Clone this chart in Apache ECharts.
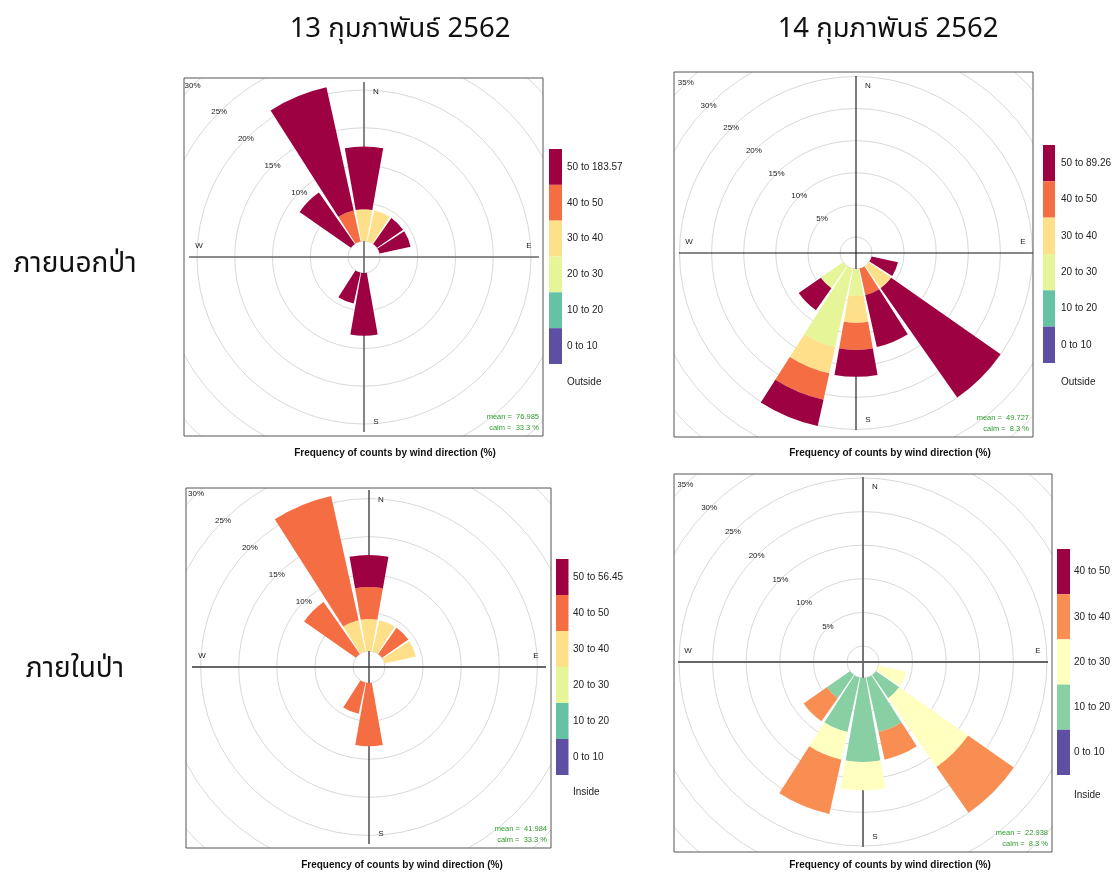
<!DOCTYPE html>
<html><head><meta charset="utf-8">
<script src="https://cdn.jsdelivr.net/npm/echarts@6/dist/echarts.min.js"></script>
<style>html,body{margin:0;padding:0;background:#fff}#c{width:1114px;height:876px}</style>
</head><body><div id="c"></div>
<script>
// ---------- DATA ----------
const directions = ['N','NNE','NE','ENE','E','ESE','SE','SSE','S','SSW','SW','WSW','W','WNW','NW','NNW'];
const compassLabels = ['N','E','S','W'];
const dateTitles = ['13 กุมภาพันธ์ 2562', '14 กุมภาพันธ์ 2562'];
const rowTitles = ['ภายนอกป่า', 'ภายในป่า'];
const captionText = 'Frequency of counts by wind direction (%)';

// Panel 1: Outside, 13 Feb (values in % per direction, per speed bin)
const p1Bins = ['0 to 10','10 to 20','20 to 30','30 to 40','40 to 50','50 to 183.57'];
const p1Bin0 = [0,0,0,0,0,0,0,0,0,0,0,0,0,0,0,0];
const p1Bin1 = [0,0,0,0,0,0,0,0,0,0,0,0,0,0,0,0];
const p1Bin2 = [0,0,0,0,0,0,0,0,0,0,0,0,0,0,0,0];
const p1Bin3 = [4.2,4.2,0,0,0,0,0,0,0,0,0,0,0,0,0,0];
const p1Bin4 = [0,0,0,0,0,0,0,0,0,0,0,0,0,0,0,4.2];
const p1Bin5 = [8.3,0,4.2,4.2,0,0,0,0,8.3,4.2,0,0,0,0,8.3,16.7];
const p1Levels = [0,5,10,15,20,25,30];

// Panel 2: Outside, 14 Feb
const p2Bins = ['0 to 10','10 to 20','20 to 30','30 to 40','40 to 50','50 to 89.26'];
const p2Bin0 = [0,0,0,0,0,0,0,0,0,0,0,0,0,0,0,0];
const p2Bin1 = [0,0,0,0,0,0,0,0,0,0,0,0,0,0,0,0];
const p2Bin2 = [0,0,0,0,0,0,0,0,4.2,12.5,4.2,0,0,0,0,0];
const p2Bin3 = [0,0,0,0,0,0,4.2,0,4.2,4.2,0,0,0,0,0,0];
const p2Bin4 = [0,0,0,0,0,0,0,4.2,4.2,4.2,0,0,0,0,0,0];
const p2Bin5 = [0,0,0,0,0,4.2,20.8,8.3,4.2,4.2,4.2,0,0,0,0,0];
const p2Levels = [0,5,10,15,20,25,30,35];

// Panel 3: Inside, 13 Feb
const p3Bins = ['0 to 10','10 to 20','20 to 30','30 to 40','40 to 50','50 to 56.45'];
const p3Bin0 = [0,0,0,0,0,0,0,0,0,0,0,0,0,0,0,0];
const p3Bin1 = [0,0,0,0,0,0,0,0,0,0,0,0,0,0,0,0];
const p3Bin2 = [0,0,0,0,0,0,0,0,0,0,0,0,0,0,0,0];
const p3Bin3 = [4.2,4.2,0,4.2,0,0,0,0,0,0,0,0,0,0,0,4.2];
const p3Bin4 = [4.2,0,4.2,0,0,0,0,0,8.3,4.2,0,0,0,0,8.3,16.7];
const p3Bin5 = [4.2,0,0,0,0,0,0,0,0,0,0,0,0,0,0,0];
const p3Levels = [0,5,10,15,20,25,30];

// Panel 4: Inside, 14 Feb
const p4Bins = ['0 to 10','10 to 20','20 to 30','30 to 40','40 to 50'];
const p4Bin0 = [0,0,0,0,0,0,0,0,0,0,0,0,0,0,0,0];
const p4Bin1 = [0,0,0,0,0,0,4.2,8.3,12.5,8.3,4.2,0,0,0,0,0];
const p4Bin2 = [0,0,0,0,0,4.2,12.5,0,4.2,4.2,0,0,0,0,0,0];
const p4Bin3 = [0,0,0,0,0,0,8.3,4.2,0,8.3,4.2,0,0,0,0,0];
const p4Bin4 = [0,0,0,0,0,0,0,0,0,0,0,0,0,0,0,0];
const p4Levels = [0,5,10,15,20,25,30,35];

const meanValues = ['76.985','49.727','41.984','22.938'];
const calmValues = ['33.3','8.3','33.3','8.3'];
const groupNames = ['Outside','Outside','Inside','Inside'];

// ---------- STYLE / LAYOUT ----------
const colors6 = ['#5E4FA2','#66C2A5','#E6F598','#FEE08B','#F46D43','#9E0142'];
const colors5 = ['#5E4FA2','#88CFA4','#FFFFBF','#F98E52','#9E0142'];

const panels = [
  {bins:p1Bins, values:[p1Bin0,p1Bin1,p1Bin2,p1Bin3,p1Bin4,p1Bin5], colors:colors6, levels:p1Levels},
  {bins:p2Bins, values:[p2Bin0,p2Bin1,p2Bin2,p2Bin3,p2Bin4,p2Bin5], colors:colors6, levels:p2Levels},
  {bins:p3Bins, values:[p3Bin0,p3Bin1,p3Bin2,p3Bin3,p3Bin4,p3Bin5], colors:colors6, levels:p3Levels},
  {bins:p4Bins, values:[p4Bin0,p4Bin1,p4Bin2,p4Bin3,p4Bin4], colors:colors5, levels:p4Levels}
];
const layout = [
  {box:[184,78,359,358], center:[364,257], hole:16, k:7.55, axisLen:175, axisColor:'#666', axisW:1.6,
   leg:{x:549,y:149,w:13,h:215}, legTextX:567, unitY:382, caption:[395,453]},
  {box:[674,72,359,365], center:[856,253], hole:16, k:6.42, axisLen:177, axisColor:'#111', axisW:1.1,
   leg:{x:1043,y:145,w:12,h:218}, legTextX:1061, unitY:382, caption:[890,453]},
  {box:[186,488,365,360], center:[369,667], hole:16, k:7.62, axisLen:177, axisColor:'#333', axisW:1.3,
   leg:{x:556,y:559,w:12.5,h:216}, legTextX:573, unitY:792, caption:[402,865]},
  {box:[674,474,378,378], center:[863,662], hole:16, k:6.72, axisLen:185, axisColor:'#666', axisW:1.8,
   leg:{x:1057,y:549,w:13,h:226}, legTextX:1074, unitY:795, caption:[890,865]}
];
const smallFont = '"Liberation Sans", Arial, sans-serif';
const thaiFont = '"Noto Sans Thai", "Leelawadee UI", Tahoma, "Noto Sans", "DejaVu Sans", sans-serif';

const option = {
  animation:false, backgroundColor:'#ffffff',
  polar:[], angleAxis:[], radiusAxis:[], series:[], graphic:[]
};

panels.forEach((p, i) => {
  const L = layout[i];
  const maxLevel = p.levels[p.levels.length - 1];
  option.polar.push({center:L.center, radius:[L.hole, L.hole + maxLevel * L.k]});
  option.angleAxis.push({
    polarIndex:i, type:'category', data:directions, boundaryGap:true,
    startAngle:90 + 180 / directions.length, clockwise:true,
    axisLine:{show:false}, axisTick:{show:false}, axisLabel:{show:false},
    splitLine:{show:false}, splitArea:{show:false}
  });
  option.radiusAxis.push({
    polarIndex:i, type:'value', min:0, max:maxLevel,
    axisLine:{show:false}, axisTick:{show:false}, axisLabel:{show:false},
    splitLine:{show:false}, splitArea:{show:false}
  });
  const clip = {type:'rect', shape:{x:L.box[0], y:L.box[1], width:L.box[2], height:L.box[3]}};
  // grid circles + percentage labels (clipped to the panel frame)
  option.series.push({
    type:'custom', coordinateSystem:'polar', polarIndex:i, z:1, silent:true,
    data:p.levels.map(v => [v, 14]),
    renderItem:function(params, api){
      const cs = params.coordSys;
      const v = api.value(0);
      const pt = api.coord([v, 0]);
      const r = Math.hypot(pt[0] - cs.cx, pt[1] - cs.cy);
      const lp = api.coord([v, 14]);
      const children = [{type:'circle', shape:{cx:cs.cx, cy:cs.cy, r:r},
        style:{fill:'none', stroke:'#d9d9d9', lineWidth:1}}];
      if (v > 0) children.push({type:'text', x:lp[0], y:lp[1],
        style:{text:v + '%', font:'8px ' + smallFont, fill:'#222', align:'center', verticalAlign:'middle'}});
      return {type:'group', clipPath:clip, children:children};
    }
  });
  // compass cross lines + N/E/S/W labels
  option.series.push({
    type:'custom', coordinateSystem:'polar', polarIndex:i, z:2, silent:true,
    data:compassLabels.map((c, j) => [maxLevel, j * 4]),
    renderItem:function(params, api){
      const cs = params.coordSys;
      const pt = api.coord([api.value(0), api.value(1)]);
      const dx = pt[0] - cs.cx, dy = pt[1] - cs.cy;
      const d = Math.hypot(dx, dy);
      const ux = dx / d, uy = dy / d;
      const lab = compassLabels[params.dataIndex];
      const lr = L.axisLen - 10;
      const offX = Math.abs(uy) > 0.5 ? 12 : 0;
      const offY = Math.abs(ux) > 0.5 ? -11 : 0;
      return {type:'group', children:[
        {type:'line', shape:{x1:cs.cx, y1:cs.cy, x2:cs.cx + ux * L.axisLen, y2:cs.cy + uy * L.axisLen},
          style:{stroke:L.axisColor, lineWidth:L.axisW}},
        {type:'text', x:cs.cx + ux * lr + offX, y:cs.cy + uy * lr + offY,
          style:{text:lab, font:'8px ' + smallFont, fill:'#222', align:'center', verticalAlign:'middle'}}
      ]};
    }
  });
  // stacked bars
  p.bins.forEach((b, j) => {
    option.series.push({
      type:'bar', coordinateSystem:'polar', polarIndex:i, stack:'panel' + i, name:b,
      data:p.values[j], barCategoryGap:'11%', z:3, silent:true,
      itemStyle:{color:p.colors[j]}
    });
  });
  // frame
  option.graphic.push({type:'rect', shape:{x:L.box[0], y:L.box[1], width:L.box[2], height:L.box[3]},
    style:{fill:'none', stroke:'#555', lineWidth:1}, z:10, silent:true});
  // legend (colour key)
  const n = p.bins.length, segH = L.leg.h / n;
  for (let j = 0; j < n; j++) {
    const idx = n - 1 - j;
    option.graphic.push({type:'rect', shape:{x:L.leg.x, y:L.leg.y + j * segH, width:L.leg.w, height:segH},
      style:{fill:p.colors[idx]}, z:10, silent:true});
    option.graphic.push({type:'text', x:L.legTextX, y:L.leg.y + (j + 0.5) * segH,
      style:{text:p.bins[idx], font:'10px ' + smallFont, fill:'#222', align:'left', verticalAlign:'middle'}, z:10, silent:true});
  }
  option.graphic.push({type:'text', x:L.legTextX, y:L.unitY,
    style:{text:groupNames[i], font:'10px ' + smallFont, fill:'#222', align:'left', verticalAlign:'middle'}, z:10, silent:true});
  // caption
  option.graphic.push({type:'text', x:L.caption[0], y:L.caption[1],
    style:{text:captionText, font:'bold 10px ' + smallFont, fill:'#111', align:'center', verticalAlign:'middle'}, z:10, silent:true});
  // mean / calm
  const rx = L.box[0] + L.box[2] - 4, by = L.box[1] + L.box[3];
  option.graphic.push({type:'text', x:rx, y:by - 19,
    style:{text:'mean =  ' + meanValues[i], font:'7.5px ' + smallFont, fill:'#2E9A2E', align:'right', verticalAlign:'middle'}, z:10, silent:true});
  option.graphic.push({type:'text', x:rx, y:by - 8,
    style:{text:'calm =  ' + calmValues[i] + ' %', font:'7.5px ' + smallFont, fill:'#2E9A2E', align:'right', verticalAlign:'middle'}, z:10, silent:true});
});

// titles
const titleX = [400, 888];
dateTitles.forEach((t, i) => option.graphic.push({type:'text', x:titleX[i], y:31,
  style:{text:t, font:'27.5px ' + thaiFont, fill:'#111', align:'center', verticalAlign:'middle'}, z:10, silent:true}));
const rowY = [266, 671];
rowTitles.forEach((t, i) => option.graphic.push({type:'text', x:75, y:rowY[i],
  style:{text:t, font:'28px ' + thaiFont, fill:'#111', align:'center', verticalAlign:'middle'}, z:10, silent:true}));

const chart = echarts.init(document.getElementById('c'), null, {renderer:'canvas'});
chart.setOption(option);
</script>
</body></html>
